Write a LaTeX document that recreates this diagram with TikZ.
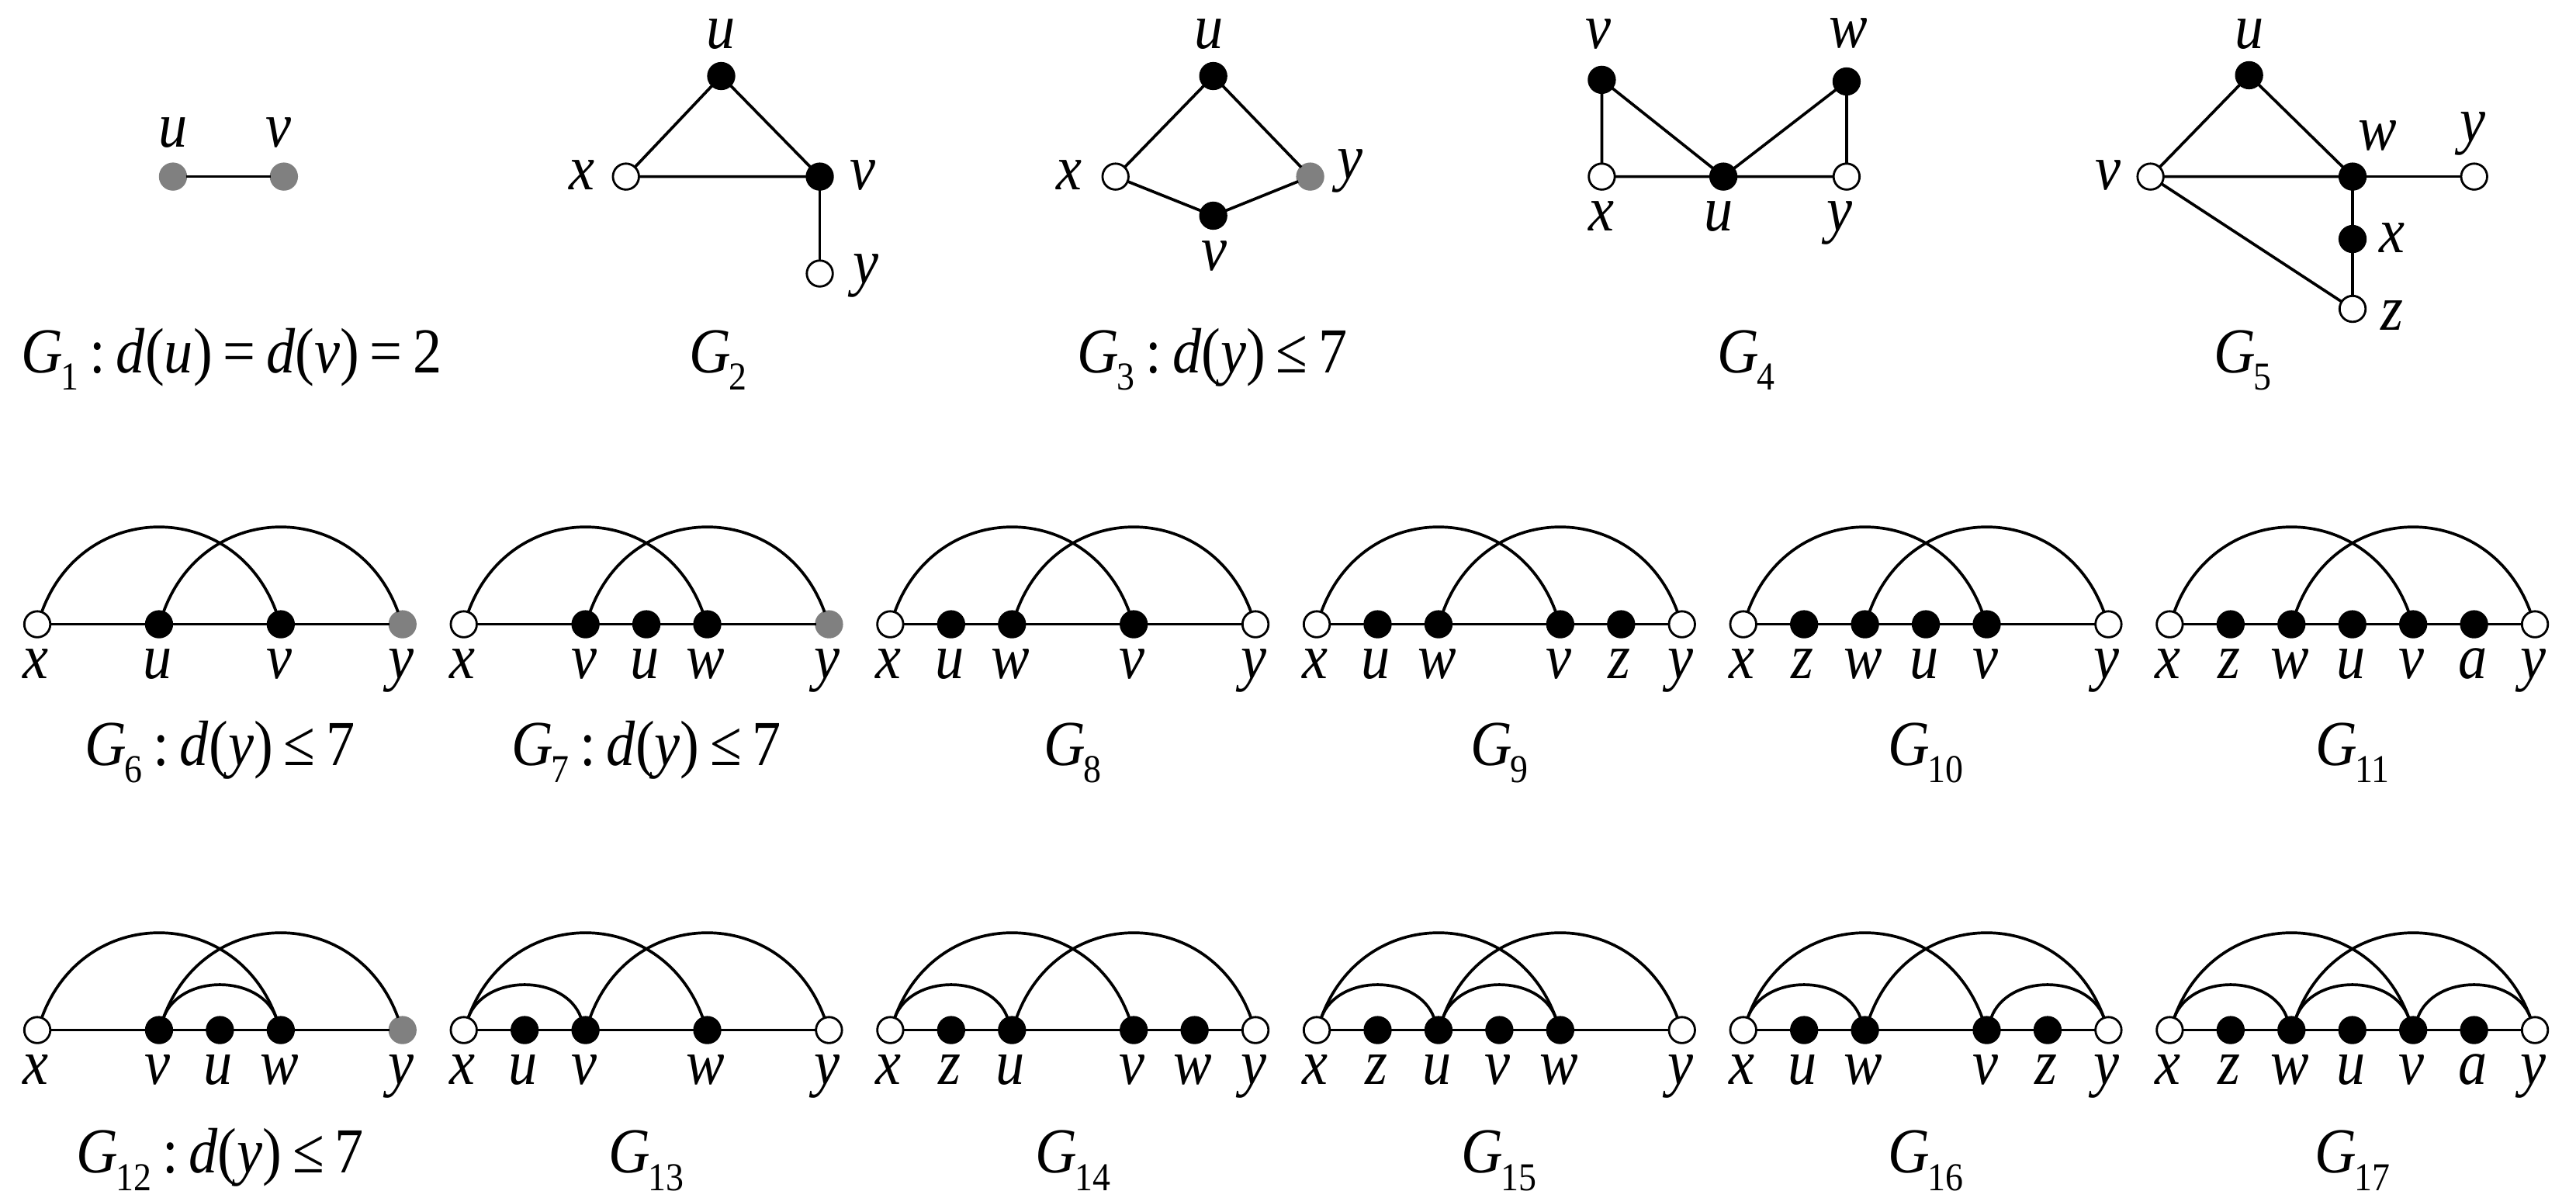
\documentclass[tikz,border=0pt]{standalone}
\usepackage{fontspec}
\setmainfont{Liberation Serif}[FakeStretch=0.9]
\definecolor{vgray}{RGB}{128,128,128}
\newcommand{\Gsub}[1]{\textit{G}\kern-0.03em\raisebox{-0.27em}{\fontsize{14.5pt}{14.5pt}\selectfont #1}}
% vertex with label below: style, name, x, y
\newcommand{\VB}[5]{\node[#1] (#2) at (#3,#4) {};\node[lbl] (#2l) at ([xshift=-0.02cm,yshift=-0.70cm]#2.center) {#5};}
\begin{document}
\begin{tikzpicture}[x=0.0211735cm,y=-0.0211735cm,
  every node/.style={inner sep=0pt,outer sep=0pt},
  vbase/.style={circle,minimum size=0.335cm,line width=0.8pt},
  fnode/.style={vbase,draw=black,fill=black},
  onode/.style={vbase,draw=black,fill=white},
  gnode/.style={vbase,draw=vgray,fill=vgray},
  lbl/.style={anchor=base,text height=0.5em,text depth=0.2em,font=\fontsize{23.5pt}{23.5pt}\selectfont\itshape},
  capt/.style={anchor=base,font=\fontsize{23.5pt}{23.5pt}\selectfont},
  edg/.style={line width=1.05pt},
  bigarc/.style={out=70,in=110,looseness=1.32},
  smallarc/.style={out=70,in=110,looseness=1.07}]
\useasboundingbox (0,0) rectangle (1568,729);

% ---------- G1 ----------
\node[gnode] (g1u) at (105.3,107.5) {};
\node[gnode] (g1v) at (172.8,107.5) {};
\node[lbl] (g1ul) at (105.5,89.7) {u};
\node[lbl] (g1vl) at (169.5,89.7) {v};
\draw[edg] (g1u) -- (g1v);
\node[capt] (cap1) at (141,227) {\Gsub{1}\,:\,\textit{d}(\textit{u})\,=\,\textit{d}(\textit{v})\,=\,2};

% ---------- G2 ----------
\node[fnode] (g2u) at (439,46.3) {};
\node[onode] (g2x) at (381,107.5) {};
\node[fnode] (g2v) at (499,107.5) {};
\node[onode] (g2y) at (499,166.5) {};
\node[lbl] (g2ul) at (439,29.3) {u};
\node[lbl] (g2xl) at (354,115.7) {x};
\node[lbl] (g2vl) at (525,115.7) {v};
\node[lbl] (g2yl) at (527,172.4) {y};
\draw[edg] (g2u) -- (g2x) -- (g2v) -- (g2u);
\draw[edg] (g2v) -- (g2y);
\node[capt] (cap2) at (437,227) {\Gsub{2}};

% ---------- G3 ----------
\node[fnode] (g3u) at (738.5,46.3) {};
\node[onode] (g3x) at (679,107.5) {};
\node[gnode] (g3y) at (797.5,107.5) {};
\node[fnode] (g3v) at (738.5,131.3) {};
\node[lbl] (g3ul) at (736,29.3) {u};
\node[lbl] (g3xl) at (651,115.7) {x};
\node[lbl] (g3yl) at (822,109) {y};
\node[lbl] (g3vl) at (739,164.4) {v};
\draw[edg] (g3u) -- (g3x) -- (g3v) -- (g3y) -- (g3u);
\node[capt] (cap3) at (738,227) {\Gsub{3}\,:\,\textit{d}(\textit{y})\,≤\,7};

% ---------- G4 ----------
\node[fnode] (g4v) at (975,48.6) {};
\node[fnode] (g4w) at (1124,49.6) {};
\node[onode] (g4x) at (975,107.5) {};
\node[fnode] (g4u) at (1049,107.5) {};
\node[onode] (g4y) at (1124,107.5) {};
\node[lbl] (g4vl) at (973,29.3) {v};
\node[lbl] (g4wl) at (1125,29) {w};
\node[lbl] (g4xl) at (975,140.3) {x};
\node[lbl] (g4ul) at (1046,140.3) {u};
\node[lbl] (g4yl) at (1120,140.3) {y};
\draw[edg] (g4v) -- (g4x) -- (g4u) -- (g4y) -- (g4w) -- (g4u) -- (g4v);
\node[capt] (cap4) at (1063,227) {\Gsub{4}};

% ---------- G5 ----------
\node[fnode] (g5u) at (1369,45.8) {};
\node[onode] (g5v) at (1309,107.5) {};
\node[fnode] (g5w) at (1432,107.5) {};
\node[onode] (g5y) at (1506,107.5) {};
\node[fnode] (g5x) at (1432,145.5) {};
\node[onode] (g5z) at (1432,188) {};
\node[lbl] (g5ul) at (1369,29.3) {u};
\node[lbl] (g5vl) at (1283,115.7) {v};
\node[lbl] (g5wl) at (1447,91.2) {w};
\node[lbl] (g5yl) at (1505,86.4) {y};
\node[lbl] (g5xl) at (1456,153.5) {x};
\node[lbl] (g5zl) at (1456,201) {z};
\draw[edg] (g5u) -- (g5v) -- (g5w) -- (g5u);
\draw[edg] (g5w) -- (g5y);
\draw[edg] (g5w) -- (g5x) -- (g5z) -- (g5v);
\node[capt] (cap5) at (1365,227) {\Gsub{5}};

% ================= Row 2 =================
% G6
\VB{onode}{g6x}{22.7}{380}{x}
\VB{fnode}{g6u}{96.8}{380}{u}
\VB{fnode}{g6v}{170.9}{380}{v}
\VB{gnode}{g6y}{245.0}{380}{y}
\draw[edg] (g6x) -- (g6u) -- (g6v) -- (g6y);
\draw[edg] (g6x) to[bigarc] (g6v);
\draw[edg] (g6u) to[bigarc] (g6y);
\node[capt] (cap6) at (133.9,466) {\Gsub{6}\,:\,\textit{d}(\textit{y})\,≤\,7};
% G7
\VB{onode}{g7x}{282.3}{380}{x}
\VB{fnode}{g7v}{356.4}{380}{v}
\VB{fnode}{g7u}{393.45}{380}{u}
\VB{fnode}{g7w}{430.5}{380}{w}
\VB{gnode}{g7y}{504.6}{380}{y}
\draw[edg] (g7x) -- (g7v) -- (g7u) -- (g7w) -- (g7y);
\draw[edg] (g7x) to[bigarc] (g7w);
\draw[edg] (g7v) to[bigarc] (g7y);
\node[capt] (cap7) at (393.5,466) {\Gsub{7}\,:\,\textit{d}(\textit{y})\,≤\,7};
% G8
\VB{onode}{g8x}{541.9}{380}{x}
\VB{fnode}{g8u}{578.95}{380}{u}
\VB{fnode}{g8w}{616.0}{380}{w}
\VB{fnode}{g8v}{690.1}{380}{v}
\VB{onode}{g8y}{764.2}{380}{y}
\draw[edg] (g8x) -- (g8u) -- (g8w) -- (g8v) -- (g8y);
\draw[edg] (g8x) to[bigarc] (g8v);
\draw[edg] (g8w) to[bigarc] (g8y);
\node[capt] (cap8) at (653,466) {\Gsub{8}};
% G9
\VB{onode}{g9x}{801.5}{380}{x}
\VB{fnode}{g9u}{838.55}{380}{u}
\VB{fnode}{g9w}{875.6}{380}{w}
\VB{fnode}{g9v}{949.7}{380}{v}
\VB{fnode}{g9z}{986.75}{380}{z}
\VB{onode}{g9y}{1023.8}{380}{y}
\draw[edg] (g9x) -- (g9u) -- (g9w) -- (g9v) -- (g9z) -- (g9y);
\draw[edg] (g9x) to[bigarc] (g9v);
\draw[edg] (g9w) to[bigarc] (g9y);
\node[capt] (cap9) at (912.6,466) {\Gsub{9}};
% G10
\VB{onode}{g10x}{1061.1}{380}{x}
\VB{fnode}{g10z}{1098.15}{380}{z}
\VB{fnode}{g10w}{1135.2}{380}{w}
\VB{fnode}{g10u}{1172.25}{380}{u}
\VB{fnode}{g10v}{1209.3}{380}{v}
\VB{onode}{g10y}{1283.4}{380}{y}
\draw[edg] (g10x) -- (g10z) -- (g10w) -- (g10u) -- (g10v) -- (g10y);
\draw[edg] (g10x) to[bigarc] (g10v);
\draw[edg] (g10w) to[bigarc] (g10y);
\node[capt] (cap10) at (1172.3,466) {\Gsub{10}};
% G11
\VB{onode}{g11x}{1320.7}{380}{x}
\VB{fnode}{g11z}{1357.75}{380}{z}
\VB{fnode}{g11w}{1394.8}{380}{w}
\VB{fnode}{g11u}{1431.85}{380}{u}
\VB{fnode}{g11v}{1468.9}{380}{v}
\VB{fnode}{g11a}{1505.95}{380}{a}
\VB{onode}{g11y}{1543.0}{380}{y}
\draw[edg] (g11x) -- (g11z) -- (g11w) -- (g11u) -- (g11v) -- (g11a) -- (g11y);
\draw[edg] (g11x) to[bigarc] (g11v);
\draw[edg] (g11w) to[bigarc] (g11y);
\node[capt] (cap11) at (1431.9,466) {\Gsub{11}};

% ================= Row 3 =================
% G12
\VB{onode}{g12x}{22.7}{627}{x}
\VB{fnode}{g12v}{96.8}{627}{v}
\VB{fnode}{g12u}{133.85}{627}{u}
\VB{fnode}{g12w}{170.9}{627}{w}
\VB{gnode}{g12y}{245.0}{627}{y}
\draw[edg] (g12x) -- (g12v) -- (g12u) -- (g12w) -- (g12y);
\draw[edg] (g12x) to[bigarc] (g12w);
\draw[edg] (g12v) to[bigarc] (g12y);
\draw[edg] (g12v) to[smallarc] (g12w);
\node[capt] (cap12) at (133.9,714) {\Gsub{12}\,:\,\textit{d}(\textit{y})\,≤\,7};
% G13
\VB{onode}{g13x}{282.3}{627}{x}
\VB{fnode}{g13u}{319.35}{627}{u}
\VB{fnode}{g13v}{356.4}{627}{v}
\VB{fnode}{g13w}{430.5}{627}{w}
\VB{onode}{g13y}{504.6}{627}{y}
\draw[edg] (g13x) -- (g13u) -- (g13v) -- (g13w) -- (g13y);
\draw[edg] (g13x) to[bigarc] (g13w);
\draw[edg] (g13v) to[bigarc] (g13y);
\draw[edg] (g13x) to[smallarc] (g13v);
\node[capt] (cap13) at (393.5,714) {\Gsub{13}};
% G14
\VB{onode}{g14x}{541.9}{627}{x}
\VB{fnode}{g14z}{578.95}{627}{z}
\VB{fnode}{g14u}{616.0}{627}{u}
\VB{fnode}{g14v}{690.1}{627}{v}
\VB{fnode}{g14w}{727.15}{627}{w}
\VB{onode}{g14y}{764.2}{627}{y}
\draw[edg] (g14x) -- (g14z) -- (g14u) -- (g14v) -- (g14w) -- (g14y);
\draw[edg] (g14x) to[bigarc] (g14v);
\draw[edg] (g14u) to[bigarc] (g14y);
\draw[edg] (g14x) to[smallarc] (g14u);
\node[capt] (cap14) at (653,714) {\Gsub{14}};
% G15
\VB{onode}{g15x}{801.5}{627}{x}
\VB{fnode}{g15z}{838.55}{627}{z}
\VB{fnode}{g15u}{875.6}{627}{u}
\VB{fnode}{g15v}{912.65}{627}{v}
\VB{fnode}{g15w}{949.7}{627}{w}
\VB{onode}{g15y}{1023.8}{627}{y}
\draw[edg] (g15x) -- (g15z) -- (g15u) -- (g15v) -- (g15w) -- (g15y);
\draw[edg] (g15x) to[bigarc] (g15w);
\draw[edg] (g15u) to[bigarc] (g15y);
\draw[edg] (g15x) to[smallarc] (g15u);
\draw[edg] (g15u) to[smallarc] (g15w);
\node[capt] (cap15) at (912.6,714) {\Gsub{15}};
% G16
\VB{onode}{g16x}{1061.1}{627}{x}
\VB{fnode}{g16u}{1098.15}{627}{u}
\VB{fnode}{g16w}{1135.2}{627}{w}
\VB{fnode}{g16v}{1209.3}{627}{v}
\VB{fnode}{g16z}{1246.35}{627}{z}
\VB{onode}{g16y}{1283.4}{627}{y}
\draw[edg] (g16x) -- (g16u) -- (g16w) -- (g16v) -- (g16z) -- (g16y);
\draw[edg] (g16x) to[bigarc] (g16v);
\draw[edg] (g16w) to[bigarc] (g16y);
\draw[edg] (g16x) to[smallarc] (g16w);
\draw[edg] (g16v) to[smallarc] (g16y);
\node[capt] (cap16) at (1172.3,714) {\Gsub{16}};
% G17
\VB{onode}{g17x}{1320.7}{627}{x}
\VB{fnode}{g17z}{1357.75}{627}{z}
\VB{fnode}{g17w}{1394.8}{627}{w}
\VB{fnode}{g17u}{1431.85}{627}{u}
\VB{fnode}{g17v}{1468.9}{627}{v}
\VB{fnode}{g17a}{1505.95}{627}{a}
\VB{onode}{g17y}{1543.0}{627}{y}
\draw[edg] (g17x) -- (g17z) -- (g17w) -- (g17u) -- (g17v) -- (g17a) -- (g17y);
\draw[edg] (g17x) to[bigarc] (g17v);
\draw[edg] (g17w) to[bigarc] (g17y);
\draw[edg] (g17x) to[smallarc] (g17w);
\draw[edg] (g17w) to[smallarc] (g17v);
\draw[edg] (g17v) to[smallarc] (g17y);
\node[capt] (cap17) at (1431.9,714) {\Gsub{17}};
\end{tikzpicture}
\end{document}
